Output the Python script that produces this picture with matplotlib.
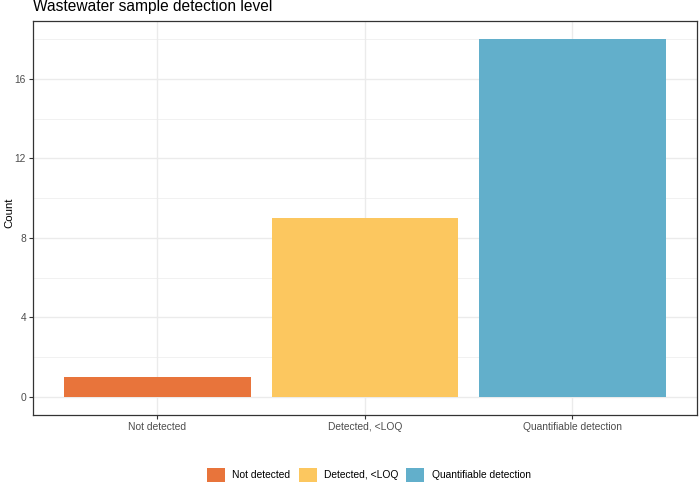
import matplotlib
matplotlib.use("Agg")
import matplotlib.pyplot as plt
from matplotlib.patches import Patch

plt.rcParams['font.family'] = ['Liberation Sans', 'DejaVu Sans']

categories = ["Not detected", "Detected, <LOQ", "Quantifiable detection"]
counts = [1, 9, 18]
colors = ["#E8743B", "#FCC75F", "#62AFCB"]
y_ticks = [0, 4, 8, 12, 16]

fig = plt.figure(figsize=(7, 4.84), dpi=100)
ax = fig.add_axes([0.0471, 0.1426, 0.9486, 0.814])

x = list(range(1, len(categories) + 1))
ax.bar(x, counts, width=0.9, color=colors, zorder=3)

ax.set_xlim(0.4, 3.6)
ax.set_ylim(-0.9, 18.9)
ax.set_xticks(x)
ax.set_xticklabels(categories, fontsize=7.4, color="#4D4D4D")
ax.set_yticks(y_ticks)
ax.set_yticklabels([str(v) for v in y_ticks], fontsize=7.4, color="#4D4D4D")
ax.set_yticks([2, 6, 10, 14, 18], minor=True)

ax.grid(True, which="major", color="#EBEBEB", linewidth=1.0, zorder=0)
ax.grid(True, which="minor", axis="y", color="#EBEBEB", linewidth=0.5, zorder=0)
ax.tick_params(which="minor", length=0)
ax.tick_params(which="major", length=3, color="#333333", width=0.8, pad=2)

for s in ax.spines.values():
    s.set_color("#333333")
    s.set_linewidth(0.9)

# y label placed by hand so it stays inside the figure
fig.text(9 / 700, 1 - 213 / 484, "Count", rotation=90, fontsize=8.2,
         ha="center", va="center")
fig.text(33 / 700, 1 - 7 / 484, "Wastewater sample detection level",
         fontsize=11.2, ha="left", va="center")

handles = [Patch(facecolor=c, edgecolor="none") for c in colors]
fig.legend(handles, categories, loc="center", bbox_to_anchor=(0.527, 1 - 475 / 484), ncol=3,
           frameon=False, fontsize=7.4, handlelength=1.75, handleheight=1.75,
           columnspacing=0.8, handletextpad=0.7, borderpad=0, borderaxespad=0)

fig.savefig("out.png", dpi=100)
